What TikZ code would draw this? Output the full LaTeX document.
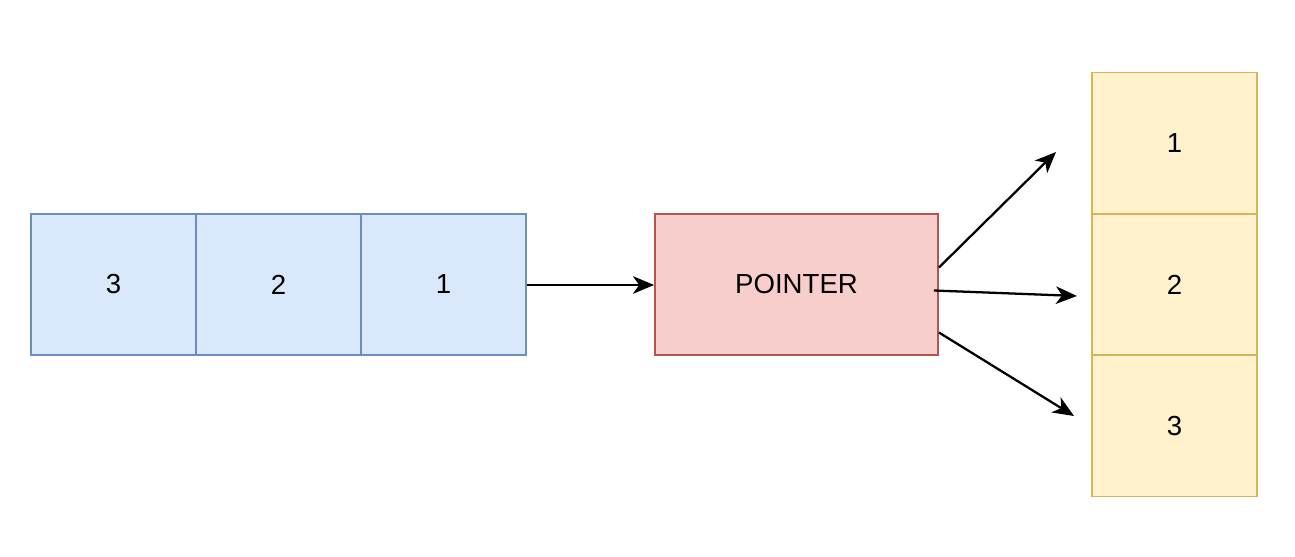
\documentclass[tikz,border=0pt]{standalone}
\usepackage{fontspec}
\setmainfont{Liberation Sans}
\usetikzlibrary{arrows.meta}
\definecolor{bluefill}{HTML}{DAE8FC}
\definecolor{blueline}{HTML}{6C8EBF}
\definecolor{redfill}{HTML}{F8CECC}
\definecolor{redline}{HTML}{B85450}
\definecolor{yellowfill}{HTML}{FFF2CC}
\definecolor{yellowline}{HTML}{D6B656}
\begin{document}
\begin{tikzpicture}[x=0.02cm, y=-0.02cm,
    every node/.style={draw, line width=1.1pt, minimum width=3.3cm, minimum height=2.82cm, inner sep=0pt, font=\fontsize{15.7}{18}\selectfont},
    cell/.style={fill=bluefill, draw=blueline},
    slot/.style={fill=yellowfill, draw=yellowline},
    link/.style={line width=1.3pt, -{Stealth[length=12pt, width=10pt, inset=3.5pt]}}]
            \useasboundingbox (0,0) rectangle (1295,557);
            \def \h {141.5}
            \node[cell] (b3) at (113.5, 284.5) {3};
            \node[cell] (b2) at (113.5+165, 284.5) {2};
            \node[cell] (b1) at (113.5+2*165, 284.5) {1};
            \node[fill=redfill, draw=redline, minimum width=5.66cm] (ptr) at (796.5, 284.5) {POINTER};
            \node[slot] (y1) at (1174.5, 284.5-\h) {1};
            \node[slot] (y2) at (1174.5, 284.5) {2};
            \node[slot] (y3) at (1174.5, 284.5+\h) {3};
            \coordinate (e1) at (1056, 152);
            \coordinate (e2) at (1077, 296);
            \coordinate (e3) at (1074, 416);
            \draw[link] ([shift={(0,0.5)}]b1.east) -- ([shift={(0,0.5)}]ptr.west);
            \draw[link] ([shift={(0,-17)}]ptr.east) -- (e1);
            \draw[link] ([shift={(-5,6)}]ptr.east) -- (e2);
            \draw[link] ([shift={(0,48)}]ptr.east) -- (e3);
        \end{tikzpicture}
\end{document}
